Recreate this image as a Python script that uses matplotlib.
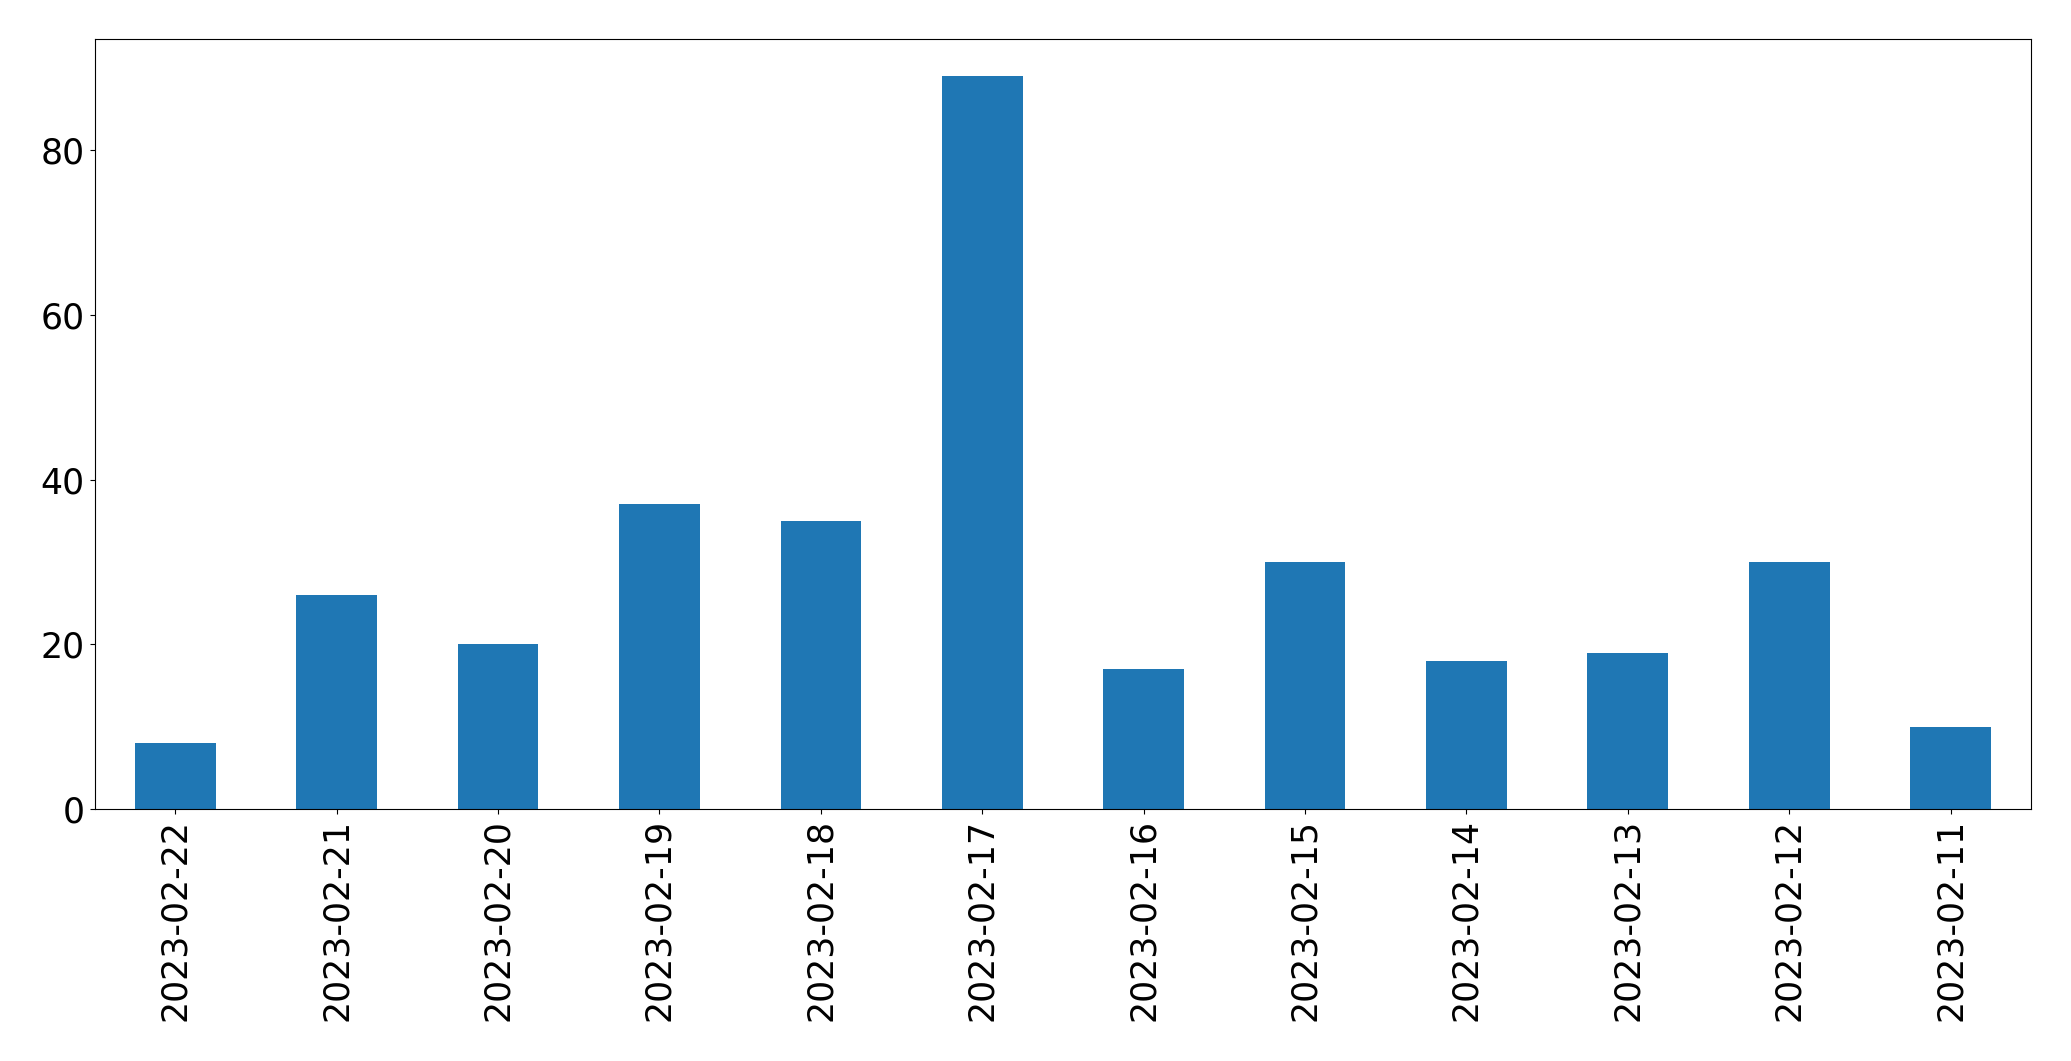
import pandas as pd
from matplotlib import pyplot as plt

dates = ['2023-02-22', '2023-02-21', '2023-02-20', '2023-02-19',
         '2023-02-18', '2023-02-17', '2023-02-16', '2023-02-15',
         '2023-02-14', '2023-02-13', '2023-02-12', '2023-02-11']
counts = [8, 26, 20, 37, 35, 89, 17, 30, 18, 19, 30, 10]

s = pd.Series(counts, index=dates)

fig, ax = plt.subplots(figsize=(20.71, 10.61), dpi=100)
s.plot(kind='bar', ax=ax, color='#1f77b4', fontsize=25)
ax.set_xlabel('')
plt.subplots_adjust(left=0.0457, right=0.9808, top=0.9632, bottom=0.2372)
plt.savefig('out.png')
